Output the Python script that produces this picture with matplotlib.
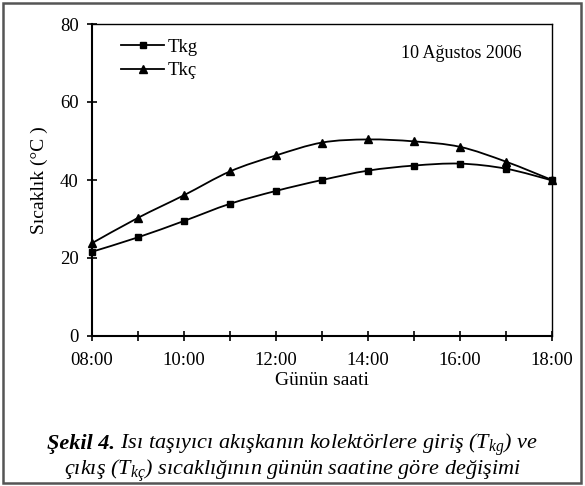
import numpy as np
import matplotlib
matplotlib.use("Agg")
import matplotlib.pyplot as plt
from matplotlib.path import Path
from matplotlib.patches import PathPatch, Rectangle
from matplotlib.lines import Line2D

hours = [8, 9, 10, 11, 12, 13, 14, 15, 16, 17, 18]
tkg = [21.6, 25.3, 29.5, 33.9, 37.2, 40.0, 42.4, 43.7, 44.2, 42.9, 39.9]
tkc = [23.8, 30.3, 36.1, 42.2, 46.3, 49.6, 50.4, 49.9, 48.5, 44.7, 40.0]
xtick_hours = [8, 10, 12, 14, 16, 18]
xtick_labels = ["08:00", "10:00", "12:00", "14:00", "16:00", "18:00"]
yticks = [0, 20, 40, 60, 80]

plt.rcParams['font.family'] = ['Liberation Serif', 'DejaVu Serif']
plt.rcParams['mathtext.fontset'] = 'custom'
plt.rcParams['mathtext.it'] = 'Liberation Serif:italic'
plt.rcParams['mathtext.rm'] = 'Liberation Serif:italic'


def smooth_path(x, y):
  # Catmull-Rom spline as cubic Bezier segments (like Excel smoothed lines)
  x = np.asarray(x, float)
  y = np.asarray(y, float)
  pts = np.column_stack([x, y])
  verts = [pts[0]]
  codes = [Path.MOVETO]
  n = len(pts)
  for i in range(n - 1):
    p0 = pts[i - 1] if i > 0 else pts[i]
    p1 = pts[i]
    p2 = pts[i + 1]
    p3 = pts[i + 2] if i + 2 < n else pts[i + 1]
    c1 = p1 + (p2 - p0) / 6.0
    c2 = p2 - (p3 - p1) / 6.0
    verts += [c1, c2, p2]
    codes += [Path.CURVE4] * 3
  return Path(verts, codes)


W, H = 585, 486
fig = plt.figure(figsize=(W / 100, H / 100), dpi=100)
ax = fig.add_axes([92 / W, 1 - 336 / H, 460 / W, 312 / H])

for vals, mk, ms in [(tkg, 's', 4.6), (tkc, '^', 5.3)]:
  ax.add_patch(PathPatch(smooth_path(hours, vals), facecolor='none', edgecolor='black', lw=1.3, clip_on=False))
  ax.plot(hours, vals, ls='none', marker=mk, color='black', markersize=ms, clip_on=False, zorder=3)

ax.set_xlim(8, 18)
ax.set_ylim(0, 80)
ax.set_xticks(hours)
ax.set_xticklabels([xtick_labels[xtick_hours.index(h)] if h in xtick_hours else "" for h in hours])
ax.set_yticks(yticks)
ax.tick_params(direction='inout', length=7, width=1.2, labelsize=13.5)
ax.tick_params(axis='x', pad=8)
ax.tick_params(axis='y', pad=6)
for s in ax.spines.values():
  s.set_linewidth(1.0)
ax.spines['left'].set_linewidth(1.5)
ax.spines['bottom'].set_linewidth(1.5)

ax.set_xlabel("Günün saati", fontsize=14, labelpad=2)
ax.set_ylabel("Sıcaklık (°C )", fontsize=14, labelpad=9)

handles = [Line2D([], [], color='black', lw=1.3, marker='s', markersize=4.6),
           Line2D([], [], color='black', lw=1.3, marker='^', markersize=5.3)]
ax.legend(handles, ["Tkg", "Tkç"], loc='upper left', bbox_to_anchor=(0.035, 0.995), frameon=False,
          fontsize=13.5, handlelength=2.3, handletextpad=0.2, labelspacing=0.35,
          borderaxespad=0.3)
ax.text(0.935, 0.905, "10 Ağustos 2006", transform=ax.transAxes, ha='right', va='center', fontsize=13)

# caption: two lines, first one starts with a bold italic part
cap_fs = 16
ta = fig.text(0, 1 - 449 / H, "Şekil 4.", fontsize=cap_fs, fontweight='bold', style='italic', va='baseline')
tb = fig.text(0, 1 - 449 / H, r" Isı taşıyıcı akışkanın kolektörlere giriş ($T_{kg}$) ve",
              fontsize=cap_fs, style='italic', va='baseline')
fig.text(0.5, 1 - 475 / H, r"çıkış ($T_{kç}$) sıcaklığının günün saatine göre değişimi",
         fontsize=cap_fs, style='italic', va='baseline', ha='center')
fig.canvas.draw()
r = fig.canvas.get_renderer()
wa = ta.get_window_extent(r).width
wb = tb.get_window_extent(r).width
x0 = (W - wa - wb) / 2.0
ta.set_x(x0 / W)
tb.set_x((x0 + wa) / W)

fig.patches.append(Rectangle((3 / W, 3 / H), 578 / W, 480 / H, transform=fig.transFigure,
                             fill=False, edgecolor='#555555', lw=1.8))

fig.savefig("out.png", dpi=100)
